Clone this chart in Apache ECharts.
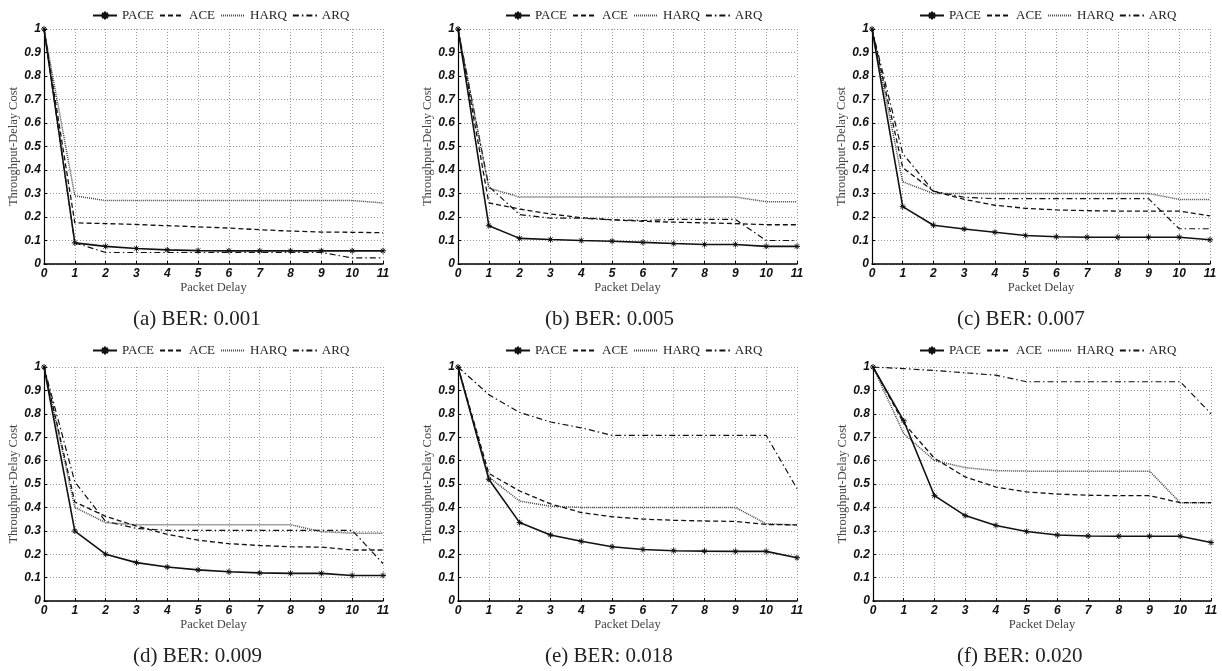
<!DOCTYPE html>
<html>
<head>
<meta charset="utf-8">
<script src="https://cdn.jsdelivr.net/npm/echarts@6/dist/echarts.min.js"></script>
<style>html,body{margin:0;padding:0;background:#fff}#c{width:1222px;height:671px}</style>
</head>
<body>
<div id="c"></div>
<script>
// Packet delay tick values (x axis)
const delays = [0,1,2,3,4,5,6,7,8,9,10,11];
const seriesNames = ['PACE','ACE','HARQ','ARQ'];
const captions = ['(a) BER: 0.001','(b) BER: 0.005','(c) BER: 0.007','(d) BER: 0.009','(e) BER: 0.018','(f) BER: 0.020'];

// (a) BER 0.001
const paceA = [1,0.09,0.075,0.066,0.06,0.057,0.056,0.056,0.056,0.056,0.056,0.056];
const aceA  = [1,0.175,0.172,0.168,0.163,0.158,0.153,0.146,0.140,0.136,0.135,0.133];
const harqA = [1,0.29,0.27,0.27,0.27,0.27,0.27,0.27,0.27,0.27,0.27,0.26];
const arqA  = [1,0.09,0.049,0.049,0.049,0.049,0.049,0.049,0.049,0.049,0.026,0.026];
// (b) BER 0.005
const paceB = [1,0.163,0.109,0.104,0.1,0.097,0.092,0.087,0.083,0.083,0.075,0.075];
const aceB  = [1,0.26,0.234,0.213,0.197,0.188,0.182,0.178,0.175,0.172,0.167,0.167];
const harqB = [1,0.323,0.285,0.285,0.285,0.285,0.285,0.285,0.285,0.285,0.265,0.265];
const arqB  = [1,0.33,0.21,0.195,0.195,0.188,0.185,0.19,0.19,0.19,0.1,0.1];
// (c) BER 0.007
const paceC = [1,0.244,0.165,0.149,0.135,0.121,0.116,0.114,0.114,0.114,0.114,0.103];
const aceC  = [1,0.41,0.31,0.275,0.25,0.237,0.23,0.227,0.225,0.225,0.225,0.205];
const harqC = [1,0.35,0.3,0.3,0.3,0.3,0.3,0.3,0.3,0.3,0.275,0.275];
const arqC  = [1,0.47,0.31,0.284,0.278,0.278,0.278,0.278,0.278,0.278,0.15,0.15];
// (d) BER 0.009
const paceD = [1,0.299,0.2,0.164,0.145,0.133,0.125,0.12,0.118,0.118,0.109,0.109];
const aceD  = [1,0.423,0.362,0.32,0.285,0.26,0.245,0.237,0.232,0.23,0.218,0.218];
const harqD = [1,0.4,0.335,0.326,0.326,0.326,0.326,0.326,0.326,0.296,0.29,0.29];
const arqD  = [1,0.509,0.34,0.31,0.302,0.302,0.302,0.302,0.302,0.302,0.302,0.16];
// (e) BER 0.018
const paceE = [1,0.52,0.335,0.282,0.255,0.232,0.22,0.215,0.213,0.212,0.212,0.185];
const aceE  = [1,0.545,0.47,0.415,0.378,0.36,0.35,0.345,0.342,0.34,0.327,0.325];
const harqE = [1,0.53,0.427,0.405,0.4,0.4,0.4,0.4,0.4,0.4,0.33,0.325];
const arqE  = [1,0.882,0.806,0.765,0.74,0.708,0.708,0.708,0.708,0.708,0.708,0.48];
// (f) BER 0.020
const paceF = [1,0.77,0.45,0.365,0.323,0.297,0.282,0.278,0.277,0.277,0.277,0.25];
const aceF  = [1,0.76,0.61,0.53,0.487,0.466,0.457,0.452,0.45,0.45,0.42,0.42];
const harqF = [1,0.715,0.6,0.57,0.557,0.555,0.555,0.555,0.555,0.555,0.42,0.42];
const arqF  = [1,0.993,0.985,0.975,0.965,0.937,0.937,0.937,0.937,0.937,0.937,0.8];

const panels = [
  [paceA, aceA, harqA, arqA],
  [paceB, aceB, harqB, arqB],
  [paceC, aceC, harqC, arqC],
  [paceD, aceD, harqD, arqD],
  [paceE, aceE, harqE, arqE],
  [paceF, aceF, harqF, arqF]
];

// layout (pixels)
const gridBoxes = [
  {left:44,  top:29,  width:339, height:235},
  {left:458, top:29,  width:339, height:235},
  {left:872, top:29,  width:338, height:235},
  {left:44,  top:367, width:339, height:234},
  {left:458, top:367, width:339, height:234},
  {left:873, top:367, width:338, height:234}
];
const legendPos = [[92,9],[505,9],[919,9],[92,344],[505,344],[919,344]];
const captionPos = [[133,309],[545,309],[957,309],[133,646],[545,646],[957,646]];

const serif = '"Liberation Serif", "DejaVu Serif", serif';
const sans = '"Liberation Sans", Arial, sans-serif';
const starPath = 'path://M0,-5L0,5M-5,0L5,0M-3.5,-3.5L3.5,3.5M-3.5,3.5L3.5,-3.5';

const styles = [
  {lineStyle:{color:'#111', width:1.6, type:'solid'}, symbol:starPath, symbolSize:6},
  {lineStyle:{color:'#111', width:1.3, type:[5,3]}, symbol:'none'},
  {lineStyle:{color:'#444', width:1.5, type:[1,1]}, symbol:'none'},
  {lineStyle:{color:'#111', width:1.2, type:[6,3,1.5,3]}, symbol:'none'}
];

const option = {
  animation:false,
  backgroundColor:'#fff',
  grid: gridBoxes.map(g => Object.assign({containLabel:false}, g)),
  legend: legendPos.map(p => ({
    left:p[0], top:p[1], padding:0, itemWidth:24, itemHeight:10, itemGap:5,
    data:seriesNames.map((n,k) => k === 0 ? {name:n} : {name:n, itemStyle:{opacity:0}}),
    textStyle:{fontFamily:serif, fontSize:13, color:'#222'}
  })),
  title: captions.map((t,i) => ({
    text:t, left:captionPos[i][0], top:captionPos[i][1], padding:0,
    textStyle:{fontFamily:serif, fontSize:21, fontWeight:'normal', color:'#222'}
  })),
  xAxis: gridBoxes.map((g,i) => ({
    type:'value', gridIndex:i, min:0, max:11, interval:1,
    name:'Packet Delay', nameLocation:'middle', nameGap:15,
    nameTextStyle:{fontFamily:serif, fontSize:12.5, color:'#444'},
    axisLine:{show:true, lineStyle:{color:'#000', width:1.5}},
    axisTick:{show:true, inside:true, length:3, lineStyle:{color:'#000'}},
    axisLabel:{fontFamily:sans, fontSize:12, fontWeight:'bold', fontStyle:'italic', color:'#111', margin:4},
    splitLine:{show:true, lineStyle:{color:'#999', type:[1,2], width:1}}
  })),
  yAxis: gridBoxes.map((g,i) => ({
    type:'value', gridIndex:i, min:0, max:1, interval:0.1,
    name:'Throughput-Delay Cost', nameLocation:'middle', nameGap:23, nameRotate:90,
    nameTextStyle:{fontFamily:serif, fontSize:12.5, color:'#444'},
    axisLine:{show:true, lineStyle:{color:'#000', width:1.2}},
    axisTick:{show:true, inside:true, length:3, lineStyle:{color:'#000'}},
    axisLabel:{fontFamily:sans, fontSize:12, fontWeight:'bold', fontStyle:'italic', color:'#111', margin:3,
      formatter: v => (v === 0 ? '0' : (v === 1 ? '1' : v.toFixed(1)))},
    splitLine:{show:true, lineStyle:{color:'#999', type:[1,2], width:1}}
  })),
  series: []
};

panels.forEach((p, i) => {
  p.forEach((vals, k) => {
    option.series.push(Object.assign({
      type:'line', name:seriesNames[k], xAxisIndex:i, yAxisIndex:i,
      data: delays.map((d, j) => [d, vals[j]]),
      itemStyle:{color:'#111', borderColor:'#111', borderWidth:1},
      showSymbol: k === 0,
      silent:true, z: 10 - k
    }, styles[k]));
  });
});

const chart = echarts.init(document.getElementById('c'));
chart.setOption(option);
</script>
</body>
</html>
